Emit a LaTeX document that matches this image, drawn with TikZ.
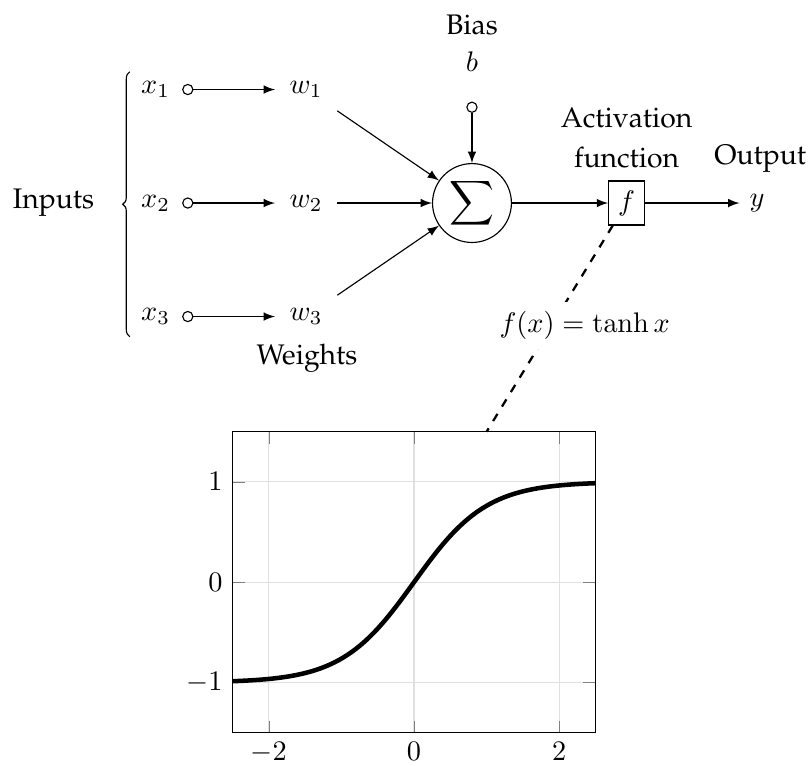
\documentclass[tikz,border=0pt]{standalone}
\usepackage[T1]{fontenc}
\renewcommand{\rmdefault}{ppl}
\usepackage{amsmath,amssymb}
\usepackage{pgfplots}
\pgfplotsset{compat=1.18}
\usetikzlibrary{arrows,positioning,calc,decorations.pathreplacing}

\tikzset{
  indot/.style={circle, draw, inner sep=0pt, minimum size=3.6pt},
  weight/.style={inner sep=5pt},
  conn/.style={-latex},
}

\begin{document}
\begin{tikzpicture}
    \useasboundingbox (-5.863,-6.981) rectangle (4.199,2.522);

    % Summation
    \node[circle, draw, minimum size=0.98cm, inner sep=0pt] (sum) at (0,0)
      {\fontsize{11pt}{13pt}\selectfont$\displaystyle\sum$};

    % Inputs and weights
    \foreach \i/\y in {1/1.41, 2/0, 3/-1.41} {
      \node (x\i) at (-3.93,\y) {$x_\i$};
      \node[indot] (d\i) at (-3.53,\y) {};
      \node[weight] (w\i) at (-2.06,\y) {$w_\i$};
      \draw[conn] (d\i) -- (w\i);
      \draw[conn] (w\i) -- (sum);
    }
    \coordinate (btop) at (-4.25,1.63);
    \coordinate (bbot) at (-4.25,-1.66);
    \draw[decorate, decoration={brace, amplitude=2.5pt}] (bbot) -- (btop);
    \node[left] (inputs) at (-4.57,0) {Inputs};
    \node (weights) at (-2.05,-1.93) {Weights};

    % Bias
    \node (bias) at (0,2.21) {Bias};
    \node (b) at (0,1.75) {$b$};
    \node[indot] (bdot) at (0,1.19) {};
    \draw[conn] (bdot) -- (sum);

    % Activation and output
    \node[draw] (f) at (1.92,0) {$f$};
    \node[above=1pt of f, align=center] (act) {Activation\\[2pt]function};
    \draw[conn] (sum) -- (f);
    \node (y) at (3.54,0) {$y$};
    \node (out) at (3.58,0.55) {Output};
    \draw[conn] (f) -- (y);

    % tanh plot
    \coordinate (pll) at (-2.975,-6.58);
    \begin{axis}[at={(pll)}, anchor=south west, scale only axis,
        width=4.51cm, height=3.74cm, xmin=-2.5, xmax=2.5, ymin=-1.5, ymax=1.5,
        xtick={-2,0,2}, ytick={-1,0,1}, grid=major, grid style={black!12}]
      \addplot[black, ultra thick, domain=-2.5:2.5, samples=100, smooth] {tanh(x)};
      \coordinate (ptop) at (axis cs:1,1.5);
    \end{axis}
    \draw[thick, dashed] (f) -- (ptop);
    \node[fill=white] (fx) at (1.40,-1.52) {$f(x) = \tanh x$};
  \end{tikzpicture}
\end{document}
